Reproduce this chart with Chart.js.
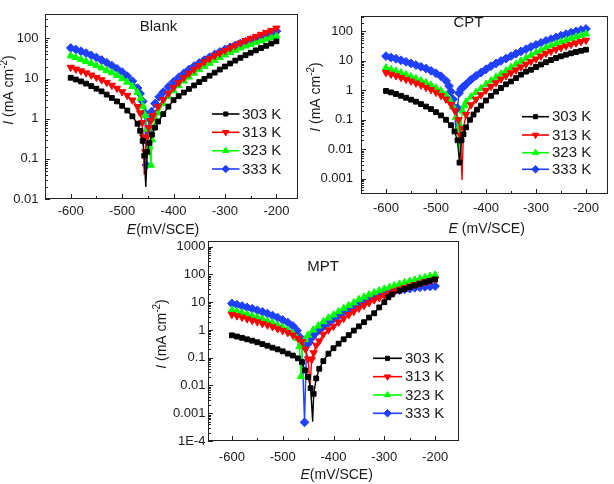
<!DOCTYPE html>
<html><head><meta charset="utf-8">
<script src="https://cdn.jsdelivr.net/npm/chart.js@4.4.1/dist/chart.umd.min.js"></script>
<style>
html,body{margin:0;padding:0;background:#fff;width:614px;height:484px;overflow:hidden}
canvas{position:absolute;left:0;top:0}
</style>
</head><body>
<canvas id="cBlank" width="614" height="484"></canvas>
<canvas id="cCPT" width="614" height="484"></canvas>
<canvas id="cMPT" width="614" height="484"></canvas>
<script>
// ---------------- data ----------------
const temperatures = ['303 K', '313 K', '323 K', '333 K'];
const xTickValues = [-600, -500, -400, -300, -200];
const blankYTicks = [0.01, 0.1, 1, 10, 100];
const cptYTicks = [0.001, 0.01, 0.1, 1, 10, 100];
const mptYTicks = [1e-4, 0.001, 0.01, 0.1, 1, 10, 100, 1000];

// [E (mV/SCE), I (mA cm-2)]
const blank303 = [[-600,10.5],[-590,9.5],[-580,8.5],[-570,7.5],[-560,6.5],[-550,5.6],[-540,4.8],[-530,4.0],[-520,3.3],[-510,2.7],[-500,2.1],[-490,1.6],[-480,1.15],[-470,0.75],[-465,0.5],[-460,0.28],[-457,0.12],[-454,0.02],[-451,0.15],[-447,0.25],[-442,0.4],[-436,0.6],[-430,0.85],[-420,1.3],[-410,2.0],[-400,2.9],[-390,3.65],[-380,4.5],[-370,5.55],[-360,6.75],[-350,8.2],[-340,9.8],[-330,11.8],[-320,14.1],[-310,16.8],[-300,20],[-290,23.8],[-280,28.1],[-270,33],[-260,38.3],[-250,44.1],[-240,50.5],[-230,57.6],[-220,65.5],[-210,74.6],[-200,85]];
const blank313 = [[-600,19],[-590,17.2],[-580,15.5],[-570,13.8],[-560,12.2],[-550,10.7],[-540,9.3],[-530,8.0],[-520,6.8],[-510,5.7],[-500,4.7],[-490,3.8],[-480,2.9],[-470,2.0],[-465,1.4],[-461,0.8],[-459,0.35],[-457,0.04],[-455,0.15],[-452,0.35],[-448,0.6],[-444,0.9],[-440,1.2],[-430,2.0],[-420,3.0],[-410,4.3],[-400,6.0],[-390,8.0],[-380,10.5],[-370,13.5],[-360,17],[-350,21],[-340,26],[-330,31],[-320,37],[-310,43],[-300,50],[-290,58],[-280,67],[-270,77],[-260,88],[-250,100],[-240,112],[-230,126],[-220,141],[-210,158],[-200,180]];
const blank323 = [[-600,37],[-590,33.5],[-580,30],[-570,27],[-560,24],[-550,21],[-540,18.5],[-530,16],[-520,14],[-510,12],[-500,10],[-490,8.2],[-480,6.4],[-470,4.5],[-464,3.2],[-459,2.0],[-455,1.2],[-451,0.55],[-447,0.2],[-444,0.07],[-442,0.3],[-439,0.6],[-435,0.95],[-430,1.4],[-420,2.4],[-410,3.6],[-400,5.0],[-390,6.7],[-380,8.7],[-370,11],[-360,13.7],[-350,16.8],[-340,20.3],[-330,24],[-320,28.5],[-310,33.5],[-300,39],[-290,45],[-280,51],[-270,58],[-260,65],[-250,72],[-240,80],[-230,88],[-220,97],[-210,106],[-200,116]];
const blank333 = [[-600,58],[-590,53],[-580,48],[-570,43],[-560,38],[-550,33.5],[-540,29],[-530,25],[-520,21],[-510,17.5],[-500,14.5],[-490,11.5],[-480,8.6],[-470,5.8],[-465,4.2],[-460,2.7],[-456,1.4],[-453,0.07],[-450,0.5],[-447,1.0],[-443,1.5],[-436,2.4],[-428,3.5],[-420,4.6],[-410,6.3],[-400,8.3],[-390,10.7],[-380,13.5],[-370,16.8],[-360,20.5],[-350,24.5],[-340,29],[-330,34],[-320,40],[-310,46],[-300,53],[-290,60],[-280,67],[-270,75],[-260,83],[-250,92],[-240,101],[-230,111],[-220,122],[-210,135],[-200,152]];

const cpt303 = [[-600,0.95],[-590,0.85],[-580,0.75],[-570,0.65],[-560,0.56],[-550,0.48],[-540,0.41],[-530,0.34],[-520,0.28],[-510,0.23],[-500,0.18],[-490,0.14],[-480,0.1],[-470,0.065],[-463,0.04],[-457,0.02],[-453,0.0035],[-449,0.02],[-445,0.032],[-440,0.055],[-432,0.1],[-425,0.15],[-418,0.22],[-410,0.3],[-400,0.45],[-390,0.65],[-380,0.9],[-370,1.2],[-360,1.6],[-350,2.0],[-340,2.6],[-330,3.4],[-320,4.3],[-310,5.0],[-300,6.2],[-290,7.5],[-280,9],[-270,10.7],[-260,12.5],[-250,14.3],[-240,16.2],[-230,18.1],[-220,20],[-210,22],[-200,24]];
const cpt313 = [[-600,4.0],[-590,3.5],[-580,3.1],[-570,2.7],[-560,2.35],[-550,2.05],[-540,1.75],[-530,1.5],[-520,1.25],[-510,1.05],[-500,0.85],[-490,0.66],[-480,0.5],[-470,0.33],[-462,0.2],[-455,0.1],[-451,0.03],[-448,0.0009],[-445,0.05],[-440,0.15],[-430,0.32],[-420,0.5],[-410,0.7],[-400,1.0],[-390,1.35],[-380,1.8],[-370,2.4],[-360,3.1],[-350,3.9],[-340,4.9],[-330,6.2],[-320,7.7],[-310,9.5],[-300,11.5],[-290,14.5],[-280,18],[-270,21],[-260,24.5],[-250,28],[-240,32],[-230,36],[-220,40.5],[-210,45],[-200,50]];
const cpt323 = [[-600,5.8],[-590,5.1],[-580,4.5],[-570,3.9],[-560,3.4],[-550,2.9],[-540,2.5],[-530,2.15],[-520,1.8],[-510,1.5],[-500,1.2],[-490,0.95],[-480,0.7],[-472,0.45],[-466,0.28],[-460,0.12],[-456,0.05],[-454,0.005],[-451,0.06],[-447,0.2],[-443,0.3],[-440,0.4],[-430,0.6],[-420,0.85],[-410,1.15],[-400,1.6],[-390,2.1],[-380,2.8],[-370,3.6],[-360,4.6],[-350,6.0],[-340,7.7],[-330,9.8],[-320,12.3],[-310,15.4],[-300,19],[-290,23],[-280,28],[-270,33],[-260,38],[-250,44],[-240,50],[-230,57],[-220,65],[-210,73],[-200,83]];
const cpt333 = [[-600,14.5],[-590,13],[-580,11.8],[-570,10.5],[-560,9.3],[-550,8.2],[-540,7.2],[-530,6.3],[-520,5.5],[-510,4.6],[-500,3.8],[-490,3.0],[-480,2.1],[-474,1.4],[-470,0.9],[-466,0.5],[-463,0.25],[-460,0.035],[-457,0.25],[-454,0.8],[-450,1.1],[-446,1.3],[-440,1.6],[-430,2.3],[-420,3.1],[-410,4.0],[-400,5.2],[-390,6.6],[-380,8.2],[-370,10],[-360,12],[-350,14.5],[-340,17.5],[-330,21],[-320,25],[-310,30],[-300,35],[-290,41],[-280,48],[-270,55],[-260,63],[-250,72],[-240,81],[-230,91],[-220,101],[-210,112],[-200,122]];

const mpt303 = [[-600,0.64],[-590,0.58],[-580,0.52],[-570,0.46],[-560,0.41],[-550,0.36],[-540,0.31],[-530,0.27],[-520,0.23],[-510,0.2],[-500,0.17],[-490,0.14],[-480,0.12],[-470,0.095],[-462,0.07],[-456,0.035],[-450,0.02],[-445,0.008],[-441,0.0005],[-439,0.005],[-434,0.018],[-428,0.04],[-420,0.075],[-410,0.14],[-400,0.22],[-390,0.32],[-380,0.46],[-370,0.65],[-360,0.95],[-350,1.35],[-340,1.9],[-330,2.8],[-320,4.0],[-310,6.5],[-300,10],[-292,15],[-285,19],[-270,26],[-260,30],[-250,35],[-240,40],[-230,46],[-220,52],[-210,59],[-200,66]];
const mpt313 = [[-600,3.6],[-590,3.2],[-580,2.85],[-570,2.5],[-560,2.2],[-550,1.95],[-540,1.7],[-530,1.5],[-520,1.3],[-510,1.1],[-500,0.95],[-490,0.8],[-480,0.65],[-470,0.5],[-462,0.38],[-455,0.2],[-450,0.09],[-446,0.009],[-443,0.085],[-439,0.15],[-434,0.28],[-428,0.4],[-420,0.7],[-410,1.0],[-400,1.35],[-390,1.9],[-380,2.6],[-370,3.5],[-360,4.6],[-350,6.0],[-340,7.6],[-330,9.5],[-320,12],[-310,14.5],[-300,17.5],[-290,21],[-280,25],[-270,29],[-260,33],[-250,38],[-240,43],[-230,48],[-220,54],[-210,60],[-200,66]];
const mpt323 = [[-600,5.2],[-590,4.6],[-580,4.1],[-570,3.6],[-560,3.2],[-550,2.8],[-540,2.45],[-530,2.1],[-520,1.8],[-510,1.5],[-500,1.25],[-490,1.0],[-480,0.75],[-472,0.5],[-467,0.25],[-464,0.021],[-461,0.25],[-456,0.45],[-450,0.65],[-440,1.0],[-430,1.4],[-420,2.0],[-410,2.7],[-400,3.5],[-390,4.6],[-380,6.0],[-370,7.6],[-360,9.5],[-350,12.5],[-340,15.3],[-330,18.5],[-320,22],[-310,26],[-300,30],[-290,34.5],[-280,39.5],[-270,45],[-260,51],[-250,57],[-240,63],[-230,70],[-220,78],[-210,86],[-200,95]];
const mpt333 = [[-600,9.0],[-590,8.1],[-580,7.3],[-570,6.5],[-560,5.8],[-550,5.1],[-540,4.5],[-530,3.9],[-520,3.3],[-510,2.8],[-500,2.3],[-490,1.85],[-480,1.4],[-472,0.95],[-466,0.55],[-462,0.3],[-457,0.00047],[-453,0.3],[-448,0.35],[-442,0.55],[-436,0.75],[-428,1.0],[-420,1.35],[-410,1.8],[-400,2.5],[-390,3.3],[-380,4.3],[-370,5.5],[-360,6.9],[-350,8.5],[-340,10.3],[-330,12.3],[-320,14.5],[-310,17],[-300,19.5],[-290,22],[-280,24.5],[-270,27],[-260,29],[-250,31],[-240,33],[-230,34.5],[-220,36],[-210,37],[-200,38]];

// ---------------- styles ----------------
const FONT = 'Arial, "Liberation Sans", sans-serif';
const TXT = '#1a1a1a';
const SERIES_STYLE = [
  {color: '#000000', style: 'rect', rot: 0, r: 3.4},
  {color: '#ff0000', style: 'triangle', rot: 180, r: 4.2},
  {color: '#00ff00', style: 'triangle', rot: 0, r: 4.2},
  {color: '#2040ff', style: 'rectRot', rot: 0, r: 4.4}
];
const Y_W = 40, X_H = 20;

const panels = [
  {id: 'cBlank', series: [blank303, blank313, blank323, blank333], hideTip: [true, true, false, false],
   box: [45, 3, 298, 199], xmin: -650, xmax: -158, ymin: 0.01, ymax: 400, yTicks: blankYTicks,
   yPad: 6.5, xPad: 5,
   title: {text: 'Blank', x: 158.5, y: 27}, xTitle: {pre: 'E', post: '(mV/SCE)', x: 163, y: 230},
   yTitle: {x: 9, y: 90}, legend: {x1: 212, x2: 239.5, tx: 242, rows: [114, 132.3, 150.7, 169]}},
  {id: 'cCPT', series: [cpt303, cpt313, cpt323, cpt333], hideTip: [false, true, true, true],
   box: [361, 2, 608, 194], xmin: -650, xmax: -156, ymin: 0.00034, ymax: 340, yTicks: cptYTicks,
   yPad: 8, xPad: 7,
   title: {text: 'CPT', x: 468.5, y: 23}, xTitle: {pre: 'E', post: ' (mV/SCE)', x: 486.7, y: 229},
   yTitle: {x: 316, y: 97}, legend: {x1: 522, x2: 549, tx: 552, rows: [116.7, 135, 152.7, 169.3]}},
  {id: 'cMPT', series: [mpt303, mpt313, mpt323, mpt333], hideTip: [true, true, false, false],
   box: [208, 241, 459, 441], xmin: -647, xmax: -153, ymin: 1e-4, ymax: 1600, yTicks: mptYTicks,
   yPad: 2.5, xPad: 9,
   title: {text: 'MPT', x: 323, y: 267}, xTitle: {pre: 'E', post: '(mV/SCE)', x: 336.7, y: 475},
   yTitle: {x: 162.5, y: 334}, legend: {x1: 373, x2: 402, tx: 405, rows: [358.3, 376.7, 395, 413.3]}}
];

function fmtY(v) {
  if (Math.abs(v - 1e-4) < 1e-9) return '1E-4';
  return String(v);
}

function drawMarker(ctx, st, x, y, scale) {
  ctx.save();
  ctx.fillStyle = st.color; ctx.strokeStyle = st.color; ctx.lineWidth = 1;
  Chart.helpers.drawPoint(ctx, {pointStyle: st.style, rotation: st.rot, radius: st.r * scale, borderWidth: 1}, x, y);
  ctx.restore();
}

function decorPlugin(P) {
  return {
    id: 'decor',
    afterDraw(chart) {
      const ctx = chart.ctx, a = chart.chartArea;
      const xs = chart.scales.x, ys = chart.scales.y;
      ctx.save();
      // box
      ctx.strokeStyle = '#222'; ctx.lineWidth = 1;
      ctx.strokeRect(Math.round(a.left) + 0.5, Math.round(a.top) + 0.5, Math.round(a.right - a.left) - 1, Math.round(a.bottom - a.top) - 1);
      // y ticks (major + log minor), inward from left
      ctx.beginPath();
      const lo = Math.floor(Math.log10(P.ymin)), hi = Math.ceil(Math.log10(P.ymax));
      for (let k = lo; k <= hi; k++) {
        for (let m = 1; m <= 9; m++) {
          const v = m * Math.pow(10, k);
          if (v < P.ymin * 0.999 || v > P.ymax) continue;
          const y = Math.round(ys.getPixelForValue(v)) + 0.5;
          const len = m === 1 ? 5 : 3;
          ctx.moveTo(a.left, y); ctx.lineTo(a.left + len, y);
        }
      }
      // x ticks inward from bottom
      for (let v = -650; v <= -150; v += 50) {
        if (v < P.xmin || v > P.xmax) continue;
        const x = Math.round(xs.getPixelForValue(v)) + 0.5;
        const len = (v % 100 === 0) ? 5 : 3;
        ctx.moveTo(x, a.bottom); ctx.lineTo(x, a.bottom - len);
      }
      ctx.stroke();

      ctx.fillStyle = TXT;
      // panel title
      ctx.font = '15px ' + FONT; ctx.textAlign = 'center'; ctx.textBaseline = 'middle';
      ctx.fillText(P.title.text, P.title.x, P.title.y);

      // x title
      ctx.font = 'italic 14px ' + FONT;
      const w1 = ctx.measureText(P.xTitle.pre).width;
      ctx.font = '14px ' + FONT;
      const w2 = ctx.measureText(P.xTitle.post).width;
      let sx = P.xTitle.x - (w1 + w2) / 2;
      ctx.textAlign = 'left';
      ctx.font = 'italic 14px ' + FONT; ctx.fillText(P.xTitle.pre, sx, P.xTitle.y);
      ctx.font = '14px ' + FONT; ctx.fillText(P.xTitle.post, sx + w1, P.xTitle.y);

      // y title (rotated)
      ctx.save();
      ctx.translate(P.yTitle.x, P.yTitle.y); ctx.rotate(-Math.PI / 2);
      const parts = [
        {t: 'I', f: 'italic 14px ' + FONT, dy: 0},
        {t: ' (mA cm', f: '14px ' + FONT, dy: 0},
        {t: '-2', f: '10px ' + FONT, dy: -5},
        {t: ')', f: '14px ' + FONT, dy: 0}
      ];
      let tw = 0;
      parts.forEach(p => { ctx.font = p.f; p.w = ctx.measureText(p.t).width; tw += p.w; });
      let px = -tw / 2;
      ctx.textAlign = 'left'; ctx.textBaseline = 'middle';
      parts.forEach(p => { ctx.font = p.f; ctx.fillText(p.t, px, p.dy); px += p.w; });
      ctx.restore();

      // legend
      const L = P.legend;
      chart.data.datasets.forEach((ds, i) => {
        const st = SERIES_STYLE[i], y = L.rows[i];
        ctx.strokeStyle = st.color; ctx.lineWidth = 1.6;
        ctx.beginPath(); ctx.moveTo(L.x1, y); ctx.lineTo(L.x2, y); ctx.stroke();
        drawMarker(ctx, st, (L.x1 + L.x2) / 2, y, 0.85);
        ctx.fillStyle = TXT; ctx.font = '15px ' + FONT; ctx.textAlign = 'left'; ctx.textBaseline = 'middle';
        ctx.fillText(ds.label, L.tx, y + 0.5);
      });
      ctx.restore();
    }
  };
}

function makePanel(P) {
  const datasets = P.series.map((arr, i) => {
    const st = SERIES_STYLE[i];
    let minIdx = 0;
    arr.forEach((p, j) => { if (p[1] < arr[minIdx][1]) minIdx = j; });
    return {
      label: temperatures[i],
      data: arr.map(p => ({x: p[0], y: p[1]})),
      showLine: true,
      borderColor: st.color,
      backgroundColor: st.color,
      borderWidth: 1.4,
      pointStyle: st.style,
      pointRotation: st.rot,
      pointRadius: c => (P.hideTip[i] && c.dataIndex === minIdx) ? 0 : st.r,
      pointBorderWidth: 1,
      pointBackgroundColor: st.color,
      pointBorderColor: st.color,
      tension: 0
    };
  });
  new Chart(document.getElementById(P.id), {
    type: 'scatter',
    data: {datasets},
    options: {
      responsive: false, animation: false, events: [],
      layout: {padding: {left: P.box[0] - Y_W, top: P.box[1], right: 614 - P.box[2], bottom: 484 - P.box[3] - X_H}},
      plugins: {legend: {display: false}, tooltip: {enabled: false}, title: {display: false}},
      scales: {
        x: {
          type: 'linear', min: P.xmin, max: P.xmax,
          afterBuildTicks: s => { s.ticks = xTickValues.map(v => ({value: v})); },
          afterFit: s => { s.height = X_H; },
          grid: {display: false, drawTicks: false}, border: {display: false},
          ticks: {font: {family: FONT, size: 13}, color: TXT, padding: P.xPad, maxRotation: 0, autoSkip: false,
                  callback: v => String(v)}
        },
        y: {
          type: 'logarithmic', min: P.ymin, max: P.ymax,
          afterBuildTicks: s => { s.ticks = P.yTicks.map(v => ({value: v})); },
          afterFit: s => { s.width = Y_W; },
          grid: {display: false, drawTicks: false}, border: {display: false},
          ticks: {font: {family: FONT, size: 13}, color: TXT, padding: P.yPad, autoSkip: false,
                  callback: v => fmtY(v)}
        }
      }
    },
    plugins: [decorPlugin(P)]
  });
}

panels.forEach(makePanel);
</script>
</body></html>
